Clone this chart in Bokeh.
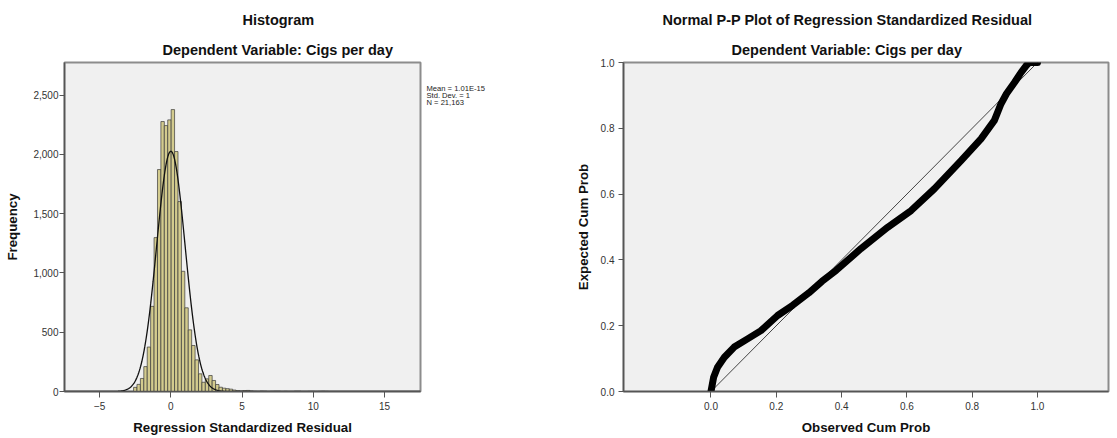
import numpy as np
from bokeh.plotting import figure
from bokeh.layouts import row
from bokeh.models import Range1d, FixedTicker, NumeralTickFormatter, Title
from bokeh.core.properties import value
from bokeh.embed import file_html
from bokeh.resources import INLINE

# ---- Histogram of regression standardized residuals ----
bin_start = -2.62
bin_width = 0.24
counts = [35, 60, 110, 210, 375, 718, 1298,
          1872, 2277, 2243, 2291, 2378, 2024,
          1602, 1014, 706, 520, 388, 267, 149, 78, 107, 135, 93, 59, 36, 28, 24, 20, 12, 8, 5,
          8, 9, 5, 2, 1, 3, 2, 0, 1, 2, 2, 0, 1, 0, 0, 2, 2, 0, 0, 1, 1, 0, 1, 2, 1]
resid_mean = 1.01e-15
resid_sd = 1.0
resid_n = 21163
hist_xticks = [-5, 0, 5, 10, 15]
hist_yticks = [0, 500, 1000, 1500, 2000, 2500]
stats = ["Mean = 1.01E-15", "Std. Dev. = 1", "N = 21,163"]

# ---- Normal P-P plot ----
observed_cum = [0, 0.008, 0.02, 0.041, 0.071, 0.112, 0.153, 0.204, 0.25, 0.30, 0.34, 0.383,
                0.459, 0.541, 0.613, 0.684, 0.766, 0.827, 0.868, 0.888, 0.905, 0.93, 0.95,
                0.965, 0.975, 0.99, 1.0]
expected_cum = [0, 0.043, 0.074, 0.104, 0.135, 0.160, 0.185, 0.231, 0.262, 0.30, 0.335, 0.368,
                0.434, 0.499, 0.550, 0.616, 0.702, 0.768, 0.824, 0.874, 0.905, 0.94, 0.97,
                0.99, 1.0, 1.0, 1.0]
ref_line = [0.0, 1.0]
pp_ticks = [0.0, 0.2, 0.4, 0.6, 0.8, 1.0]

FONT = "Liberation Sans"


def style(p):
    p.grid.visible = False
    p.background_fill_color = "#F0F0F0"
    p.border_fill_color = "white"
    p.outline_line_color = "#8c8c8c"
    p.outline_line_width = 2
    for ax in p.axis:
        ax.axis_line_color = "#555555"
        ax.axis_line_width = 1.5
        ax.major_tick_line_color = "#555555"
        ax.major_tick_in = 0
        ax.major_tick_out = 5
        ax.minor_tick_line_color = None
        ax.major_label_text_font = FONT
        ax.major_label_text_font_size = "10px"
        ax.major_label_text_color = "#333333"
        ax.axis_label_text_font = FONT
        ax.axis_label_text_font_size = "13.3px"
        ax.axis_label_text_font_style = "bold"
        ax.axis_label_text_color = "#111111"
    p.xaxis.major_tick_out = 6
    p.xaxis.major_label_standoff = 4
    p.xaxis.axis_label_standoff = 7


def add_titles(p, main, sub, main_offset, sub_offset):
    common = dict(align="left", text_font=FONT, text_font_size="14.5px",
                  text_font_style="bold", text_color="#111111")
    # first one added sits next to the frame
    p.add_layout(Title(text=sub, offset=sub_offset, standoff=10, **common), "above")
    p.add_layout(Title(text=main, offset=main_offset, standoff=14, **common), "above")


# ---- left: histogram ----
p1 = figure(width=424, height=438, x_range=Range1d(-7.47, 17.53), y_range=Range1d(0, 2775),
            output_backend="svg", toolbar_location=None,
            min_border_left=64, min_border_right=4, min_border_top=62, min_border_bottom=47,
            x_axis_label="Regression Standardized Residual", y_axis_label="Frequency")
style(p1)
p1.yaxis.major_label_standoff = 1
p1.yaxis.axis_label_standoff = 10

edges = bin_start + bin_width * np.arange(len(counts) + 1)
cnt = np.array(counts)
keep = cnt > 0
p1.quad(left=edges[:-1][keep], right=edges[1:][keep], bottom=0, top=cnt[keep],
        fill_color="#D3CB8E", line_color="#3a3a3a", line_width=0.7)

# fitted normal curve from the reported mean, SD and N
xs = np.linspace(-7.47, 17.53, 600)
ys = resid_n * bin_width * np.exp(-0.5 * ((xs - resid_mean) / resid_sd) ** 2) / (resid_sd * np.sqrt(2 * np.pi))
p1.line(xs, ys, line_color="#111111", line_width=1.3)

p1.xaxis.ticker = FixedTicker(ticks=hist_xticks)
p1.yaxis.ticker = FixedTicker(ticks=hist_yticks)
p1.yaxis.formatter = NumeralTickFormatter(format="0,0")

add_titles(p1, "Histogram", "Dependent Variable: Cigs per day", 178, 98)

# ---- summary statistics panel beside the histogram ----
# the row aligns this panel's frame with the histogram frame (rows 62..391 of the page)
ps = figure(width=136, height=438, x_range=Range1d(0, 136), y_range=Range1d(391, 62),
            output_backend="svg", toolbar_location=None, min_border=0,
            x_axis_location=None, y_axis_location=None)
ps.grid.visible = False
ps.outline_line_color = None
ps.background_fill_color = "white"
ps.text(x=[2] * len(stats), y=[88 + 6.8 * i for i in range(len(stats))], text=stats,
        text_font=value(FONT), text_font_size="7.6px", text_color="#222222",
        text_align="left", text_baseline="alphabetic")

# ---- right: normal P-P plot ----
p2 = figure(width=557, height=438, x_range=Range1d(-0.268, 1.2175), y_range=Range1d(0, 1),
            output_backend="svg", toolbar_location=None,
            min_border_left=63, min_border_right=9, min_border_top=62, min_border_bottom=47,
            x_axis_label="Observed Cum Prob", y_axis_label="Expected Cum Prob")
style(p2)
p2.yaxis.major_label_standoff = 4
p2.yaxis.axis_label_standoff = 7
p2.line(ref_line, ref_line, line_color="#444444", line_width=1)
p2.line(observed_cum, expected_cum, line_color="black", line_width=7,
        line_join="round", line_cap="round")
p2.xaxis.ticker = FixedTicker(ticks=pp_ticks)
p2.yaxis.ticker = FixedTicker(ticks=pp_ticks)
p2.xaxis.formatter = NumeralTickFormatter(format="0.0")
p2.yaxis.formatter = NumeralTickFormatter(format="0.0")

add_titles(p2, "Normal P-P Plot of Regression Standardized Residual",
           "Dependent Variable: Cigs per day", 39, 108)

layout = row(p1, ps, p2)
open("out.html", "w").write(file_html(layout, INLINE))
